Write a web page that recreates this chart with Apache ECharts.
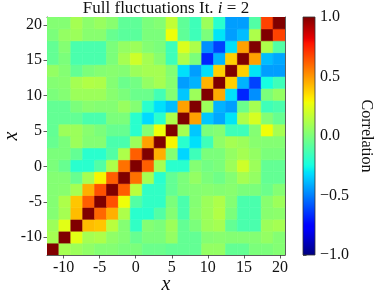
<!DOCTYPE html>
<html><head><meta charset="utf-8">
<script src="https://cdn.jsdelivr.net/npm/echarts@6/dist/echarts.min.js"></script>
<style>html,body{margin:0;padding:0;background:#fff}#c{width:374px;height:297px}</style>
</head><body><div id="c"></div>
<script>
// ---- data ----
const xTicks = [-10, -5, 0, 5, 10, 15, 20];
const yTicks = [-10, -5, 0, 5, 10, 15, 20];
const cbarTicks = [-1, -0.5, 0, 0.5, 1];
const xExtent = [-12.3, 20.7];
const yExtent = [-12.5, 21.1];
// correlation rows, bottom (row 0) to top (row 19); columns left to right
const row0  = [1, 0.1, 0.08, 0.05, 0.02, 0.02, 0.0, 0.0, -0.04, -0.04, -0.06, -0.06, -0.06, 0.06, 0.06, -0.06, -0.06, 0.0, 0.0, 0.02];
const row1  = [0.1, 1, 0.25, 0.1, 0.12, 0.05, 0.02, -0.05, 0.0, 0.0, 0.06, -0.06, -0.06, 0.02, 0.03, 0.02, 0.02, 0.02, 0.06, 0.02];
const row2  = [0.08, 0.25, 1, 0.42, 0.4, 0.15, 0.02, -0.18, 0.02, 0.0, 0.08, -0.06, 0.0, 0.08, 0.1, -0.06, -0.12, -0.12, 0.08, 0.1];
const row3  = [0.02, 0.1, 0.42, 1, 0.6, 0.45, 0.12, -0.2, -0.2, -0.1, 0.02, -0.12, 0.03, 0.08, 0.13, 0.0, -0.12, -0.12, 0.03, 0.04];
const row4  = [0.02, 0.12, 0.4, 0.62, 1, 0.65, 0.28, -0.1, -0.18, -0.18, 0.0, -0.12, 0.02, 0.08, 0.12, 0.02, -0.12, -0.12, 0.03, 0.08];
const row5  = [0.02, 0.03, 0.1, 0.45, 0.65, 1, 0.62, 0.15, -0.18, -0.18, -0.06, 0.0, 0.02, 0.03, 0.02, 0.03, 0.0, 0.0, -0.04, 0.02];
const row6  = [0.02, 0.02, -0.05, 0.1, 0.3, 0.62, 1, 0.58, 0.1, -0.2, -0.06, 0.0, 0.06, 0.0, -0.03, 0.02, 0.1, 0.06, -0.06, -0.06];
const row7  = [0.0, -0.05, -0.2, -0.2, -0.1, 0.12, 0.58, 1, 0.62, 0.1, -0.2, -0.2, 0.02, -0.02, 0.0, 0.08, 0.2, 0.08, -0.06, -0.06];
const row8  = [0.0, 0.0, -0.06, -0.2, -0.2, -0.1, 0.12, 0.62, 1, 0.45, 0.02, -0.33, -0.15, 0.0, 0.0, 0.06, 0.1, 0.06, 0.0, 0.0];
const row9  = [-0.05, 0.0, 0.08, 0.02, 0.02, -0.12, -0.12, 0.08, 0.48, 1, 0.3, -0.2, -0.31, -0.15, 0.05, 0.1, 0.08, 0.03, 0.02, 0.02];
const row10 = [-0.06, 0.08, 0.08, 0.03, 0.0, -0.05, -0.05, -0.2, 0.02, 0.28, 1, 0.1, -0.36, 0.0, 0.02, -0.15, -0.15, 0.02, 0.28, 0.1];
const row11 = [-0.06, -0.06, -0.06, -0.12, -0.12, 0.0, 0.0, -0.2, -0.32, -0.2, 0.12, 1, 0.48, -0.36, -0.42, -0.3, 0.12, 0.22, 0.02, -0.05];
const row12 = [-0.06, -0.06, 0.0, 0.03, 0.02, 0.02, 0.07, 0.02, -0.2, -0.31, -0.38, 0.48, 1, 0.08, -0.4, -0.44, -0.04, 0.1, -0.15, -0.12];
const row13 = [0.0, 0.02, 0.08, 0.08, 0.08, 0.03, 0.0, -0.04, -0.04, -0.14, 0.02, -0.36, 0.08, 1, 0.46, -0.31, -0.68, -0.47, 0.0, 0.06];
const row14 = [0.02, 0.03, 0.1, 0.13, 0.12, 0.02, -0.04, -0.02, 0.06, 0.1, 0.03, -0.44, -0.4, 0.44, 1, 0.38, -0.4, -0.62, -0.25, -0.15];
const row15 = [0.06, 0.02, -0.06, 0.0, 0.02, 0.03, 0.02, 0.08, 0.1, 0.1, 0.02, -0.31, -0.44, -0.31, 0.38, 1, 0.38, -0.3, -0.44, -0.44];
const row16 = [-0.06, 0.0, -0.12, -0.12, -0.12, 0.0, 0.1, 0.2, 0.1, 0.03, -0.15, 0.12, 0.0, -0.68, -0.4, 0.38, 1, 0.48, -0.38, -0.42];
const row17 = [-0.06, 0.02, -0.12, -0.12, -0.12, 0.0, 0.06, 0.08, 0.02, 0.0, -0.15, 0.23, 0.12, -0.47, -0.62, -0.31, 0.48, 1, 0.12, -0.1];
const row18 = [0.0, 0.06, 0.08, 0.03, 0.03, -0.05, -0.08, -0.08, 0.0, 0.0, 0.28, -0.07, -0.15, 0.0, -0.3, -0.44, -0.38, 0.12, 1, 0.68];
const row19 = [0.02, 0.02, 0.1, 0.04, 0.07, 0.03, -0.07, -0.07, 0.0, 0.02, 0.17, -0.07, -0.15, 0.08, -0.2, -0.44, -0.44, -0.1, 0.68, 1];
const rows = [row0,row1,row2,row3,row4,row5,row6,row7,row8,row9,row10,row11,row12,row13,row14,row15,row16,row17,row18,row19];

// ---- jet colormap ----
const JR = [[0,0],[0.35,0],[0.66,1],[0.89,1],[1,0.5]];
const JG = [[0,0],[0.125,0],[0.375,1],[0.64,1],[0.91,0],[1,0]];
const JB = [[0,0.5],[0.11,1],[0.34,1],[0.65,0],[1,0]];
function seg(t, p){
  for (let k = 1; k < p.length; k++) {
    if (t <= p[k][0]) { const a = p[k-1], b = p[k]; return a[1] + (b[1]-a[1]) * (t-a[0])/(b[0]-a[0]); }
  }
  return p[p.length-1][1];
}
function jet(v){
  const t = Math.max(0, Math.min(1, (v + 1) / 2));
  const c = x => Math.round(255 * x);
  return 'rgb(' + c(seg(t,JR)) + ',' + c(seg(t,JG)) + ',' + c(seg(t,JB)) + ')';
}

const N = rows.length;
const cells = [];
rows.forEach((r, j) => r.forEach((v, i) => cells.push([i, j, v])));

const stops = [];
for (let k = 0; k <= 100; k++) stops.push({offset: k/100, color: jet(-1 + 2*k/100)});

const FF = 'Liberation Serif';
const TXT = '#111';
const LINE = '#333';

const chart = echarts.init(document.getElementById('c'), null, {renderer: 'canvas'});
chart.setOption({
  animation: false,
  backgroundColor: '#fff',
  graphic: [{
    type: 'text', x: 166, y: 9,
    style: {
      text: '{a|Full fluctuations It. }{i|i}{a| = 2}',
      align: 'center', verticalAlign: 'middle',
      rich: {
        a: {fontFamily: FF, fontSize: 17, fill: TXT, color: TXT},
        i: {fontFamily: FF, fontSize: 17, fontStyle: 'italic', fill: TXT, color: TXT}
      }
    }
  }],
  grid: [
    {left: 47, top: 17, width: 238, height: 238, outerBoundsMode: 'none', containLabel: false},
    {left: 303, top: 17, width: 12, height: 238, outerBoundsMode: 'none', containLabel: false}
  ],
  xAxis: [
    {gridIndex: 0, type: 'value', min: xExtent[0], max: xExtent[1], position: 'bottom',
     axisLine: {show: true, onZero: false, lineStyle: {color: LINE, width: 0.8}},
     axisTick: {show: true, customValues: xTicks, length: 3.5, lineStyle: {color: LINE, width: 0.8}},
     axisLabel: {customValues: xTicks, fontFamily: FF, fontSize: 16, color: TXT, margin: 5},
     splitLine: {show: false},
     name: 'x', nameLocation: 'middle', nameGap: 20, nameMoveOverlap: false,
     nameTextStyle: {fontFamily: FF, fontStyle: 'italic', fontSize: 20, color: TXT}},
    {gridIndex: 0, type: 'value', min: xExtent[0], max: xExtent[1], position: 'top',
     axisLine: {show: true, onZero: false, lineStyle: {color: LINE, width: 0.8}},
     axisTick: {show: false}, axisLabel: {show: false}, splitLine: {show: false}},
    {gridIndex: 1, type: 'value', min: 0, max: 1, show: false}
  ],
  yAxis: [
    {gridIndex: 0, type: 'value', min: yExtent[0], max: yExtent[1], position: 'left',
     axisLine: {show: true, onZero: false, lineStyle: {color: LINE, width: 0.8}},
     axisTick: {show: true, customValues: yTicks, length: 3.5, lineStyle: {color: LINE, width: 0.8}},
     axisLabel: {customValues: yTicks, fontFamily: FF, fontSize: 16, color: TXT, margin: 5},
     splitLine: {show: false},
     name: 'x', nameLocation: 'middle', nameGap: 25, nameRotate: 90, nameMoveOverlap: false,
     nameTextStyle: {fontFamily: FF, fontStyle: 'italic', fontSize: 20, color: TXT}},
    {gridIndex: 0, type: 'value', min: yExtent[0], max: yExtent[1], position: 'right',
     axisLine: {show: true, onZero: false, lineStyle: {color: LINE, width: 0.8}},
     axisTick: {show: false}, axisLabel: {show: false}, splitLine: {show: false}},
    {gridIndex: 1, type: 'value', min: -1, max: 1, interval: 0.5, position: 'right',
     axisLine: {show: false},
     axisTick: {show: true, length: 3.5, lineStyle: {color: LINE, width: 0.8}},
     axisLabel: {fontFamily: FF, fontSize: 16, color: TXT, margin: 5,
       formatter: v => (v < 0 ? '\u2212' : '') + Math.abs(v).toFixed(1)},
     splitLine: {show: false},
     name: 'Correlation', nameLocation: 'middle', nameGap: 43, nameRotate: -90, nameMoveOverlap: false,
     nameTextStyle: {fontFamily: FF, fontSize: 16, color: TXT}}
  ],
  series: [
    {type: 'custom', xAxisIndex: 0, yAxisIndex: 0, data: cells, clip: true, z: 1,
     renderItem: function(params, api){
       const i = api.value(0), j = api.value(1), v = api.value(2);
       const dx = (xExtent[1]-xExtent[0]) / N, dy = (yExtent[1]-yExtent[0]) / N;
       const p0 = api.coord([xExtent[0] + i*dx, yExtent[0] + (j+1)*dy]);
       const p1 = api.coord([xExtent[0] + (i+1)*dx, yExtent[0] + j*dy]);
       const col = jet(v);
       return {type: 'rect', shape: {x: p0[0], y: p0[1], width: p1[0]-p0[0], height: p1[1]-p0[1]},
               style: {fill: col, stroke: col, lineWidth: 0.6}};
     }},
    {type: 'custom', xAxisIndex: 2, yAxisIndex: 2, data: [[0, 0]], z: 1,
     renderItem: function(params, api){
       const p0 = api.coord([0, 1]);
       const p1 = api.coord([1, -1]);
       const shape = {x: p0[0], y: p0[1], width: p1[0]-p0[0], height: p1[1]-p0[1]};
       return {type: 'group', children: [
         {type: 'rect', shape: shape,
          style: {fill: {type: 'linear', x: 0, y: 1, x2: 0, y2: 0, colorStops: stops}}},
         {type: 'rect', shape: shape, style: {fill: 'none', stroke: LINE, lineWidth: 0.8}}
       ]};
     }}
  ]
});
</script>
</body></html>
